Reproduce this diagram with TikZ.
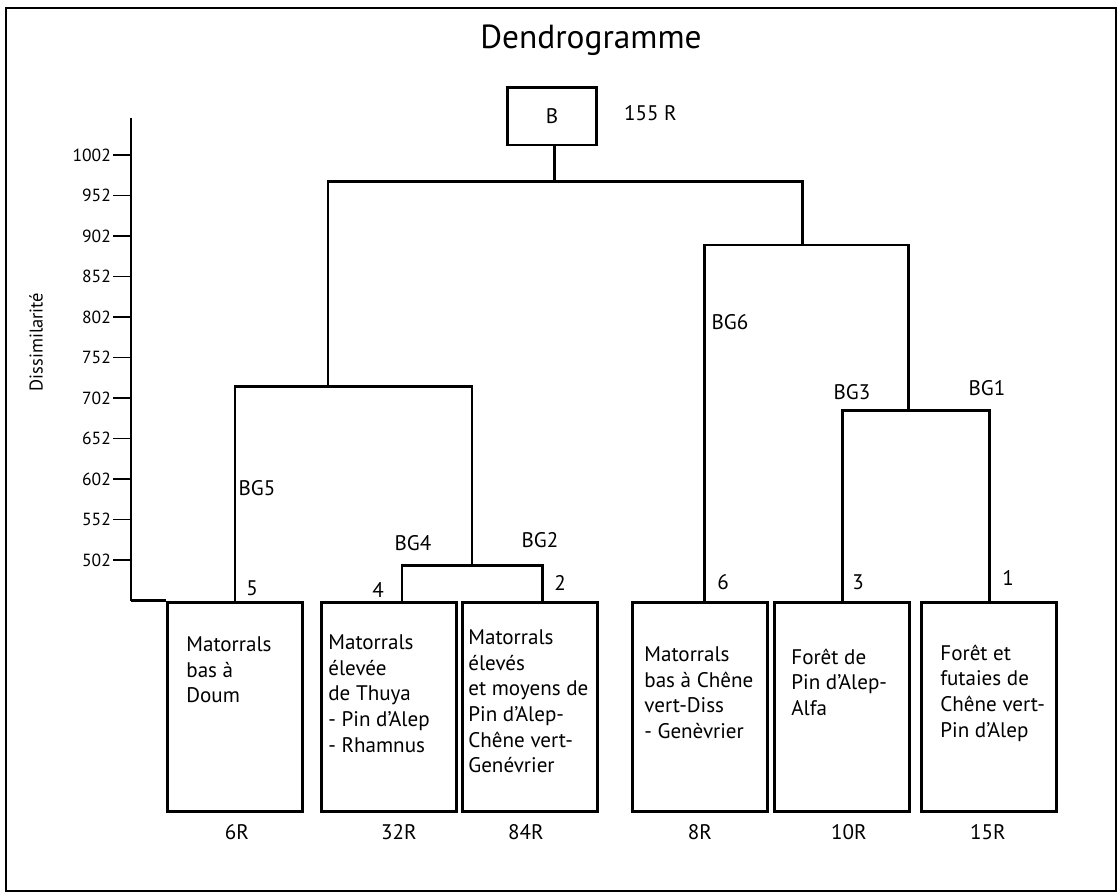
\documentclass[tikz,border=0pt]{standalone}
\usepackage{fontspec}
\setmainfont{PT Sans}
\usetikzlibrary{positioning, calc}

\begin{document}
\begin{tikzpicture}[
  x=0.02cm, y=-0.02cm,
  leaf/.style={rectangle, draw, line width=1.7pt, minimum width=2.7cm,
               minimum height=4.2cm, inner sep=0pt},
  rootbox/.style={rectangle, draw, line width=1.7pt, minimum width=1.78cm,
                  minimum height=1.16cm, font=\fontsize{12}{14}\selectfont},
  txt/.style={anchor=north west, inner sep=0pt, align=left,
              font=\fontsize{12}{14.6}\selectfont},
  num/.style={inner sep=1pt, font=\fontsize{12}{14}\selectfont},
  tick/.style={anchor=east, inner sep=1pt, font=\fontsize{10}{11}\selectfont},
  tree/.style={line width=1.7pt, line join=miter},
  axis/.style={line width=1pt},
]
  \useasboundingbox (0,0) rectangle (1119,893);
  \draw[line width=1.3pt] (6,8) rectangle (1116,891);

  % title and axis
  \node[font=\fontsize{19}{22}\selectfont] (ttl) at (591,40) {Dendrogramme};
  \node[rotate=90, font=\fontsize{10.5}{12}\selectfont] (dis) at (36,342) {Dissimilarité};

  % leaves
  \node[leaf] (l1) at (235,707) {};
  \node[leaf] (l2) at (389,707) {};
  \node[leaf] (l3) at (530,707) {};
  \node[leaf] (l4) at (700,707) {};
  \node[leaf] (l5) at (842,707) {};
  \node[leaf] (l6) at (989,707) {};

  \coordinate (ax0) at (131,118);
  \coordinate (ax1) at (l1.north west -| ax0);
  \draw[axis] (ax0) -- (ax1);
  \foreach \v [count=\i from 0] in {1002,952,...,502} {
    \node[tick] (v\v) at (113,{155+40.5*\i}) {\v};
    \draw[axis] (v\v.east) -- (v\v.east -| ax0);
  }

  % root
  \node[rootbox] (B) at (552,116) {B};
  \node[num, anchor=west] (nB) at (622,113) {155 R};

  \node[txt] (t1) at ($(l1.north west)+(20,36)$) {Matorrals\\bas à\\Doum};
  \node[txt] (t2) at ($(l2.north west)+(8,34)$) {Matorrals\\élevée\\de Thuya\\- Pin d'Alep\\- Rhamnus};
  \node[txt] (t3) at ($(l3.north west)+(7,29)$) {Matorrals\\élevés\\et moyens de\\Pin d'Alep-\\Chêne vert-\\Genévrier};
  \node[txt] (t4) at ($(l4.north west)+(13,46)$) {Matorrals\\bas à Chêne\\vert-Diss\\- Genèvrier};
  \node[txt] (t5) at ($(l5.north west)+(18,48)$) {Forêt de\\Pin d'Alep-\\Alfa};
  \node[txt] (t6) at ($(l6.north west)+(20,44)$) {Forêt et\\futaies de\\Chêne vert-\\Pin d'Alep};

  \node[num] (r1) at (237,832) {6R};
  \node[num] (r2) at (399,832) {32R};
  \node[num] (r3) at (526,832) {84R};
  \node[num] (r4) at (700,832) {8R};
  \node[num] (r5) at (849,832) {10R};
  \node[num] (r6) at (988,832) {15R};

  % junctions
  \coordinate (jB)  at ($(B.south)+(2,35)$);
  \coordinate (jL)  at (328,386);
  \coordinate (jR)  at (802,245);
  \coordinate (j42) at (472,565);
  \coordinate (j31) at (908,410);
  \coordinate (s2) at ($(l2.north)+(13,0)$);
  \coordinate (s3) at ($(l3.north)+(12,0)$);
  \coordinate (s4) at ($(l4.north)+(4,0)$);

  \draw[tree] (B.south -| jB) -- (jB);
  \draw[tree] (jL) |- (jB) -| (jR);
  \draw[tree] (l1.north) |- (jL) -| (j42);
  \draw[tree] (s2) |- (j42) -| (s3);
  \draw[tree] (s4) |- (jR) -| (j31);
  \draw[tree] (l5.north) |- (j31) -| (l6.north);
  \draw[tree] (ax1) -- (l1.north west);

  % cluster labels
  \node[num] (bg5) at (257,488) {BG5};
  \node[num] (bg4) at (413,543) {BG4};
  \node[num] (bg2) at (540,540) {BG2};
  \node[num] (bg6) at (730,322) {BG6};
  \node[num] (bg3) at (852,392) {BG3};
  \node[num] (bg1) at (987,388) {BG1};

  \node[num] (n5) at (252,588) {5};
  \node[num] (n4) at (378,590) {4};
  \node[num] (n2) at (560,583) {2};
  \node[num] (n6) at (723,582) {6};
  \node[num] (n3) at (858,582) {3};
  \node[num] (n1) at (1008,578) {1};
\end{tikzpicture}
\end{document}
